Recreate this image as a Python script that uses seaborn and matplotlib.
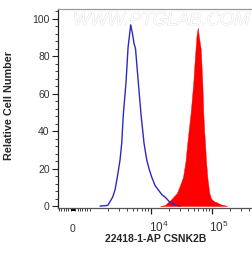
import numpy as np
import matplotlib
matplotlib.use("Agg")
import matplotlib.pyplot as plt
import matplotlib.patheffects as pe
from matplotlib.ticker import MultipleLocator, FixedLocator
import seaborn as sns

# histogram traces, x in decades (log10 intensity), y relative cell number
control_x = [3.164, 3.262, 3.295, 3.372, 3.410, 3.448, 3.492, 3.520, 3.546, 3.590,
             3.623, 3.667, 3.697, 3.721, 3.746, 3.792, 3.836, 3.885, 3.930, 3.967,
             4.011, 4.066, 4.120, 4.180, 4.230, 4.311, 4.393, 4.475]
control_y = [0, 0.2, 0.5, 4.8, 8.6, 15.5, 24.6, 33.7, 49, 66,
             84.5, 96.8, 92, 87, 84, 66, 49, 33.7, 24.6, 20,
             15.5, 11, 8.6, 6, 4.8, 2, 0.5, 0]

stained_x = [4.148, 4.230, 4.279, 4.344, 4.426, 4.475, 4.525, 4.566, 4.595, 4.623,
             4.651, 4.672, 4.693, 4.713, 4.730, 4.746, 4.766, 4.787, 4.815, 4.828,
             4.841, 4.857, 4.872, 4.885, 4.902, 4.923, 4.943, 4.956, 4.984, 5.033,
             5.077, 5.131, 5.246]
stained_y = [0, 0.5, 2, 4, 7, 11, 15.5, 24, 33.7, 42,
             50, 58, 66, 76, 84, 91, 95.3, 90, 84, 75,
             66, 50, 40, 33.7, 24, 15.5, 10, 7, 4, 2.5,
             2, 1, 0]

zero_pos = 2.72
xtick_labels = ["0", "$10^4$", "$10^5$"]
xlabel = "22418-1-AP CSNK2B"
ylabel = "Relative Cell Number"

sns.set_style("ticks")
plt.rcParams["font.family"] = ["Liberation Sans", "DejaVu Sans"]
plt.rcParams["mathtext.fontset"] = "custom"
plt.rcParams["mathtext.rm"] = "Liberation Sans"

fig = plt.figure(figsize=(2.52, 2.6), dpi=100)
ax = fig.add_axes([0.2302, 0.2019, 0.7698, 0.7635])

sns.lineplot(x=control_x, y=control_y, ax=ax, color="#2a2ac4", linewidth=1.0, zorder=3)
ax.fill_between(stained_x, stained_y, 0, color="#ff0000", linewidth=0.3,
                edgecolor="#ff0000", zorder=2)

ax.set_xlim(2.475, 5.656)
ax.set_ylim(-0.8, 105.3)

# y axis
ax.yaxis.set_major_locator(MultipleLocator(20))
ax.yaxis.set_minor_locator(MultipleLocator(4))
ax.tick_params(axis="y", which="major", length=4, width=0.8, pad=2,
               labelsize=7.5, labelcolor="#333333", color="#222222")
ax.tick_params(axis="y", which="minor", length=2.2, width=0.6, color="#222222")

# x axis: biexponential-like ticks
minor = [zero_pos + k * 0.038 for k in range(-6, 7) if k != 0]
for dec in (3, 4, 5):
    minor += [dec + np.log10(m) for m in range(1, 10) if not (m == 1 and dec > 3)]
minor = [m for m in minor if m < 5.656]
ax.xaxis.set_major_locator(FixedLocator([4, 5]))
ax.xaxis.set_minor_locator(FixedLocator(minor))
ax.set_xticklabels([])
ax.tick_params(axis="x", which="major", length=4, width=0.9, color="#222222")
ax.tick_params(axis="x", which="minor", length=2.2, width=0.6, color="#222222")
ax.vlines(zero_pos, -0.02, 0, transform=ax.get_xaxis_transform(),
          color="black", lw=3, clip_on=False)

label_x = [zero_pos, 4 - 0.03, 5 - 0.05]
aligns = ["center", "left", "left"]
sizes = [7.5, 8.5, 8.5]
for xp, lab, ha, fs in zip(label_x, xtick_labels, aligns, sizes):
    ax.text(xp, -0.121, lab, transform=ax.get_xaxis_transform(), ha=ha,
            va="baseline", fontsize=fs, color="#333333")

ax.set_xlabel(xlabel, fontsize=7.5, fontweight="bold")
ax.set_ylabel(ylabel, fontsize=7.8, fontweight="bold")
ax.xaxis.set_label_coords(0.505, -0.131)
ax.xaxis.label.set_va("top")
ax.yaxis.set_label_coords(-0.227, 0.515)

ax.text(0.077, 0.985, "WWW.PTGLAB.COM", transform=ax.transAxes, ha="left", va="top",
        fontsize=13.2, color="white", style="italic", zorder=1,
        path_effects=[pe.Stroke(linewidth=0.6, foreground="#dedede"), pe.Normal()])

ax.spines["right"].set_visible(False)
ax.spines["top"].set_color("#999999")
ax.spines["left"].set_color("#222222")
ax.spines["bottom"].set_color("#555555")
for s in ax.spines.values():
    s.set_linewidth(0.9)

fig.savefig("out.png", dpi=100)
